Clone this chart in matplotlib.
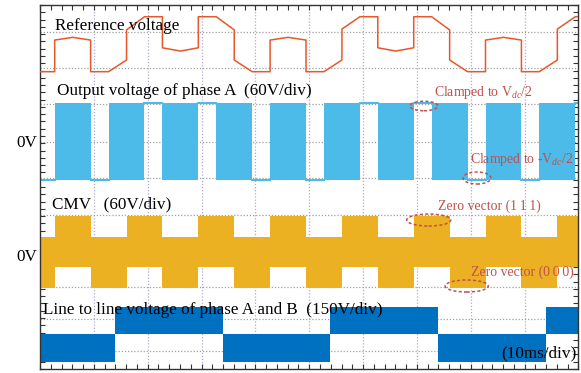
import numpy as np
import matplotlib
matplotlib.use('Agg')
import matplotlib.pyplot as plt
from matplotlib.patches import Ellipse

plt.rcParams['font.family'] = ['Liberation Serif', 'DejaVu Serif']
plt.rcParams['mathtext.fontset'] = 'custom'
plt.rcParams['mathtext.rm'] = 'Liberation Serif'
plt.rcParams['mathtext.it'] = 'Liberation Serif:italic'

# 30-degree sector edges in ms (25 Hz fundamental, 10 ms/div)
sector_edges = [-0.60, 2.73, 6.07, 9.40, 12.73, 16.07, 19.40, 22.73, 26.07, 29.40,
                32.73, 36.07, 39.40, 42.73, 46.07, 49.40, 52.73, 56.07, 59.40,
                62.73, 66.07, 69.40, 72.73, 76.07, 79.40, 82.73, 86.07, 89.40,
                92.73, 96.07, 99.40, 102.73]

# reference voltage, normalised (+-1 = clamp level), value at start / end of each sector
ref_start = [-1, 0.15, 0.25, -1, -1, 0.52, 1, -0.13, -0.25, 1, 1, -0.575,
             -1, 0.15, 0.25, -1, -1, 0.55, 1, -0.13, -0.25, 1, 1, -0.575,
             -1, 0.15, 0.25, -1, -1, 0.55, 1]
ref_end = [-1, 0.25, 0.15, -1, -0.575, 1, 1, -0.25, -0.13, 1, 0.52, -1,
           -1, 0.25, 0.15, -1, -0.575, 1, 1, -0.25, -0.13, 1, 0.52, -1,
           -1, 0.25, 0.15, -1, -0.575, 1, 1]

# phase A output per sector: switching, clamped to +Vdc/2 or -Vdc/2
phase_a = ['bot', 'pwm', 'pwm', 'bot', 'pwm', 'pwm', 'top', 'pwm', 'pwm', 'top', 'pwm', 'pwm',
           'bot', 'pwm', 'pwm', 'bot', 'pwm', 'pwm', 'top', 'pwm', 'pwm', 'top', 'pwm', 'pwm',
           'bot', 'pwm', 'pwm', 'bot', 'pwm', 'pwm', 'top']

# common-mode voltage band per sector: 'hi' uses zero vector 111, 'lo' uses 000
cmv_band = ['lo', 'hi', 'hi', 'lo', 'lo', 'hi', 'hi', 'lo', 'lo', 'hi', 'hi', 'lo',
            'lo', 'hi', 'hi', 'lo', 'lo', 'hi', 'hi', 'lo', 'lo', 'hi', 'hi', 'lo',
            'lo', 'hi', 'hi', 'lo', 'lo', 'hi', 'hi']
cmv_hi = (-0.42, 1.0)
cmv_lo = (-1.0, 0.42)

# line-to-line voltage A-B: band polarity between edges (ms)
ll_edges = [0.0, 13.9, 33.9, 53.9, 73.9, 93.9, 100.0]
ll_sign = [-1, 1, -1, 1, -1, 1]

C_REF = '#E4582B'
C_A = '#4CBBEA'
C_CMV = '#ECB122'
C_LL = '#0070C0'
C_RED = '#C0504D'

fig = plt.figure(figsize=(5.81, 3.73), dpi=100)
ax = fig.add_axes([40 / 581, 4 / 373, 538.5 / 581, 364 / 373])
ax.set_xlim(0, 100)
ax.set_ylim(0, 10)

# grid: vertical divisions + horizontal trace levels
for x in range(10, 100, 10):
    ax.axvline(x, color='#B3A6D4', lw=0.9, ls=(0, (1, 1.5)), zorder=1)
for y in [9.266, 8.261, 7.28, 6.245, 5.239, 4.231, 3.25, 2.266, 1.387, 0.495]:
    ax.axhline(y, color='#A0A0A0', lw=0.9, ls=(0, (1, 1.5)), zorder=1)

# reference voltage
c_ref, a_ref = 8.923, 0.755
rt, rv = [], []
for k in range(len(ref_start)):
    rt += [sector_edges[k], sector_edges[k + 1]]
    rv += [c_ref + a_ref * ref_start[k], c_ref + a_ref * ref_end[k]]
ax.plot(rt, rv, color=C_REF, lw=1.1, zorder=3)

# phase A output
c_a, h_a = 6.245, 1.052
for k, st in enumerate(phase_a):
    t0, t1 = sector_edges[k], sector_edges[k + 1]
    if st == 'pwm':
        ax.fill_between([t0, t1], c_a - h_a, c_a + h_a, color=C_A, lw=0, zorder=2)
    else:
        y = c_a + h_a if st == 'top' else c_a - h_a
        ax.plot([t0, t1], [y, y], color=C_A, lw=1.5, zorder=2)

# common-mode voltage
c_cmv, h_cmv = 3.225, 0.986
for k, b in enumerate(cmv_band):
    lo, hi = cmv_hi if b == 'hi' else cmv_lo
    ax.fill_between([sector_edges[k], sector_edges[k + 1]],
                    c_cmv + h_cmv * lo, c_cmv + h_cmv * hi, color=C_CMV, lw=0, zorder=2)

# line-to-line voltage
c_ll, h_ll = 0.948, 0.75
for k, s in enumerate(ll_sign):
    ax.fill_between([ll_edges[k], ll_edges[k + 1]], c_ll, c_ll + s * h_ll,
                    color=C_LL, lw=0, zorder=2)

# labels
fs = 12.3
ax.text(2.79, 9.313, 'Reference voltage', fontsize=fs, zorder=5)
ax.text(3.21, 7.527, 'Output voltage of phase A  (60V/div)', fontsize=fs, zorder=5)
ax.text(2.23, 4.415, 'CMV   (60V/div)', fontsize=fs, zorder=5)
ax.text(0.61, 1.511, 'Line to line voltage of phase A and B  (150V/div)', fontsize=fs, zorder=5)
ax.text(99.6, 0.33, '(10ms/div)', fontsize=fs, ha='right', zorder=5)
ax.text(-0.56, 6.1, '0V', fontsize=fs, ha='right', zorder=5)
ax.text(-0.56, 2.975, '0V', fontsize=fs, ha='right', zorder=5)

fr = 9.9
ax.text(73.2, 7.5, 'Clamped to V$_{dc}$/2', fontsize=fr, color=C_RED, zorder=5)
ax.text(79.85, 5.651, 'Clamped to -V$_{dc}$/2', fontsize=fr, color=C_RED, zorder=5)
ax.text(73.9, 4.368, 'Zero vector (1\u20091\u20091)', fontsize=fr, color=C_RED, zorder=5)
ax.text(79.98, 2.555, 'Zero vector (0\u20090\u20090)', fontsize=fr, color=C_RED, zorder=5)

for (cx, cy, w, h) in [(71.3, 7.225, 5.2, 0.26), (81.15, 5.247, 5.2, 0.33),
                       (72.18, 4.093, 8.17, 0.33), (79.24, 2.28, 8.0, 0.33)]:
    ax.add_patch(Ellipse((cx, cy), w, h, fill=False, ec=C_RED, lw=1.1,
                         ls=(0, (2, 1.5)), zorder=6))

# scope-style frame with inward minor ticks
ax.set_xticks(np.arange(0, 100.1, 2))
ax.set_yticks(np.arange(0, 10.01, 0.2))
ax.tick_params(direction='in', length=3.5, width=0.8, color='#333333',
               top=True, right=True, labelbottom=False, labelleft=False)
for sp in ax.spines.values():
    sp.set_color('#333333')
    sp.set_linewidth(1.0)

fig.savefig('out.png', dpi=100)
